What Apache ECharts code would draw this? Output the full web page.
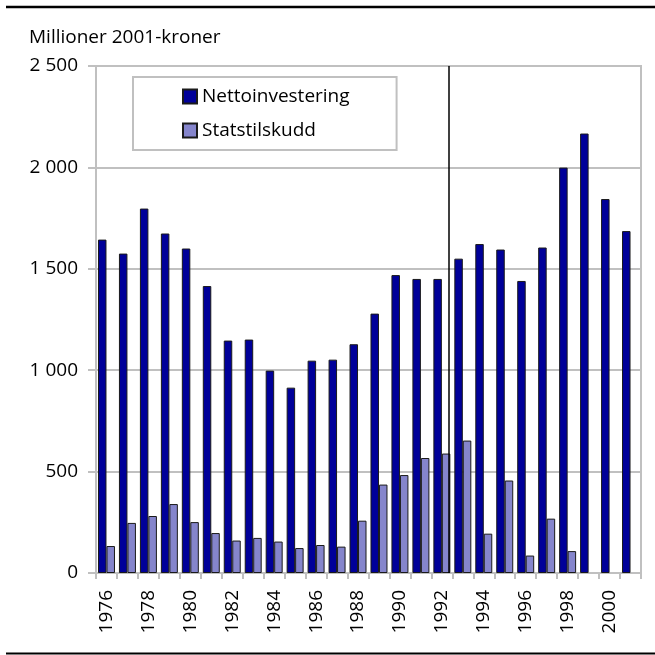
<!DOCTYPE html>
<html>
<head>
<meta charset="utf-8">
<script src="https://cdn.jsdelivr.net/npm/echarts@6/dist/echarts.min.js"></script>
<style>
html,body{margin:0;padding:0;background:#fff;}
#chart{width:655px;height:655px;}
</style>
</head>
<body>
<div id="chart"></div>
<script>
var years = ['1976','1977','1978','1979','1980','1981','1982','1983','1984','1985','1986','1987','1988','1989','1990','1991','1992','1993','1994','1995','1996','1997','1998','1999','2000','2001'];
var nettoinvestering = [1644,1575,1797,1674,1600,1415,1146,1151,998,914,1047,1052,1128,1279,1469,1450,1450,1550,1622,1595,1440,1605,1999,2167,1844,1686];
var statstilskudd = [133,247,281,340,251,197,160,173,155,123,138,130,258,436,483,567,589,653,194,456,86,268,108,null,null,null];
var yTicks = [0,500,1000,1500,2000,2500];
var dividerPosition = 16.85; // vertical reference line, in category units from the left edge
var unitLabel = 'Millioner 2001-kroner';

var FONT = '"Open Sans", sans-serif';
var chart = echarts.init(document.getElementById('chart'), null, {renderer:'canvas'});

function fmt(v){ return String(v).replace(/\B(?=(\d{3})+(?!\d))/g, ' '); }

chart.setOption({
  animation: false,
  backgroundColor: '#fff',
  title: {
    text: unitLabel, left: 29, top: 28, padding: 0,
    textStyle: {fontFamily: FONT, fontSize: 19, fontWeight: 'normal', color: '#000'}
  },
  legend: {
    data: ['Nettoinvestering','Statstilskudd'],
    orient: 'vertical', left: 133, top: 77,
    padding: [10, 47, 10, 49], itemGap: 15,
    itemWidth: 14, itemHeight: 14, icon: 'rect',
    borderColor: '#c0c0c0', borderWidth: 2, backgroundColor: '#fff',
    textStyle: {fontFamily: FONT, fontSize: 19, color: '#000'}
  },
  grid: {left: 96, right: 14, top: 66, bottom: 82, show: true, borderColor: '#c0c0c0', borderWidth: 2, backgroundColor: 'transparent'},
  xAxis: [{
    type: 'category', data: years, boundaryGap: true,
    axisLine: {lineStyle: {color: '#c0c0c0', width: 2}},
    axisTick: {show: true, interval: 0, length: 6, lineStyle: {color: '#c0c0c0', width: 2}},
    axisLabel: {interval: 1, rotate: 90, margin: 17, fontFamily: FONT, fontSize: 19, color: '#000'},
    splitLine: {show: false}
  },{
    type: 'value', min: 0, max: years.length, show: false
  }],
  yAxis: {
    type: 'value', min: yTicks[0], max: yTicks[yTicks.length-1], interval: yTicks[1]-yTicks[0],
    axisLine: {show: true, lineStyle: {color: '#c0c0c0', width: 2}},
    axisTick: {show: true, length: 8, lineStyle: {color: '#c0c0c0', width: 2}},
    axisLabel: {margin: 18, fontFamily: FONT, fontSize: 19, color: '#000', formatter: fmt},
    splitLine: {show: true, lineStyle: {color: '#c0c0c0', width: 2}}
  },
  series: [{
    name: 'Nettoinvestering', type: 'bar', data: nettoinvestering,
    barGap: '0%', barCategoryGap: '19%',
    itemStyle: {color: '#000099', borderColor: '#1a1a1a', borderWidth: 1}
  },{
    name: 'Statstilskudd', type: 'bar', data: statstilskudd,
    barGap: '0%', barCategoryGap: '19%',
    itemStyle: {color: '#8585cc', borderColor: '#1a1a1a', borderWidth: 1}
  },{
    name: 'divider', type: 'scatter', xAxisIndex: 1, data: [],
    markLine: {
      silent: true, symbol: 'none', animation: false,
      label: {show: false},
      lineStyle: {color: '#000', width: 1.5, type: 'solid'},
      data: [{xAxis: dividerPosition}]
    }
  }],
  graphic: [
    {type: 'line', shape: {x1: 6, y1: 7, x2: 655, y2: 7}, style: {stroke: '#000', lineWidth: 2.5}, silent: true},
    {type: 'line', shape: {x1: 6, y1: 653.5, x2: 655, y2: 653.5}, style: {stroke: '#000', lineWidth: 2}, silent: true}
  ]
});
</script>
</body>
</html>
